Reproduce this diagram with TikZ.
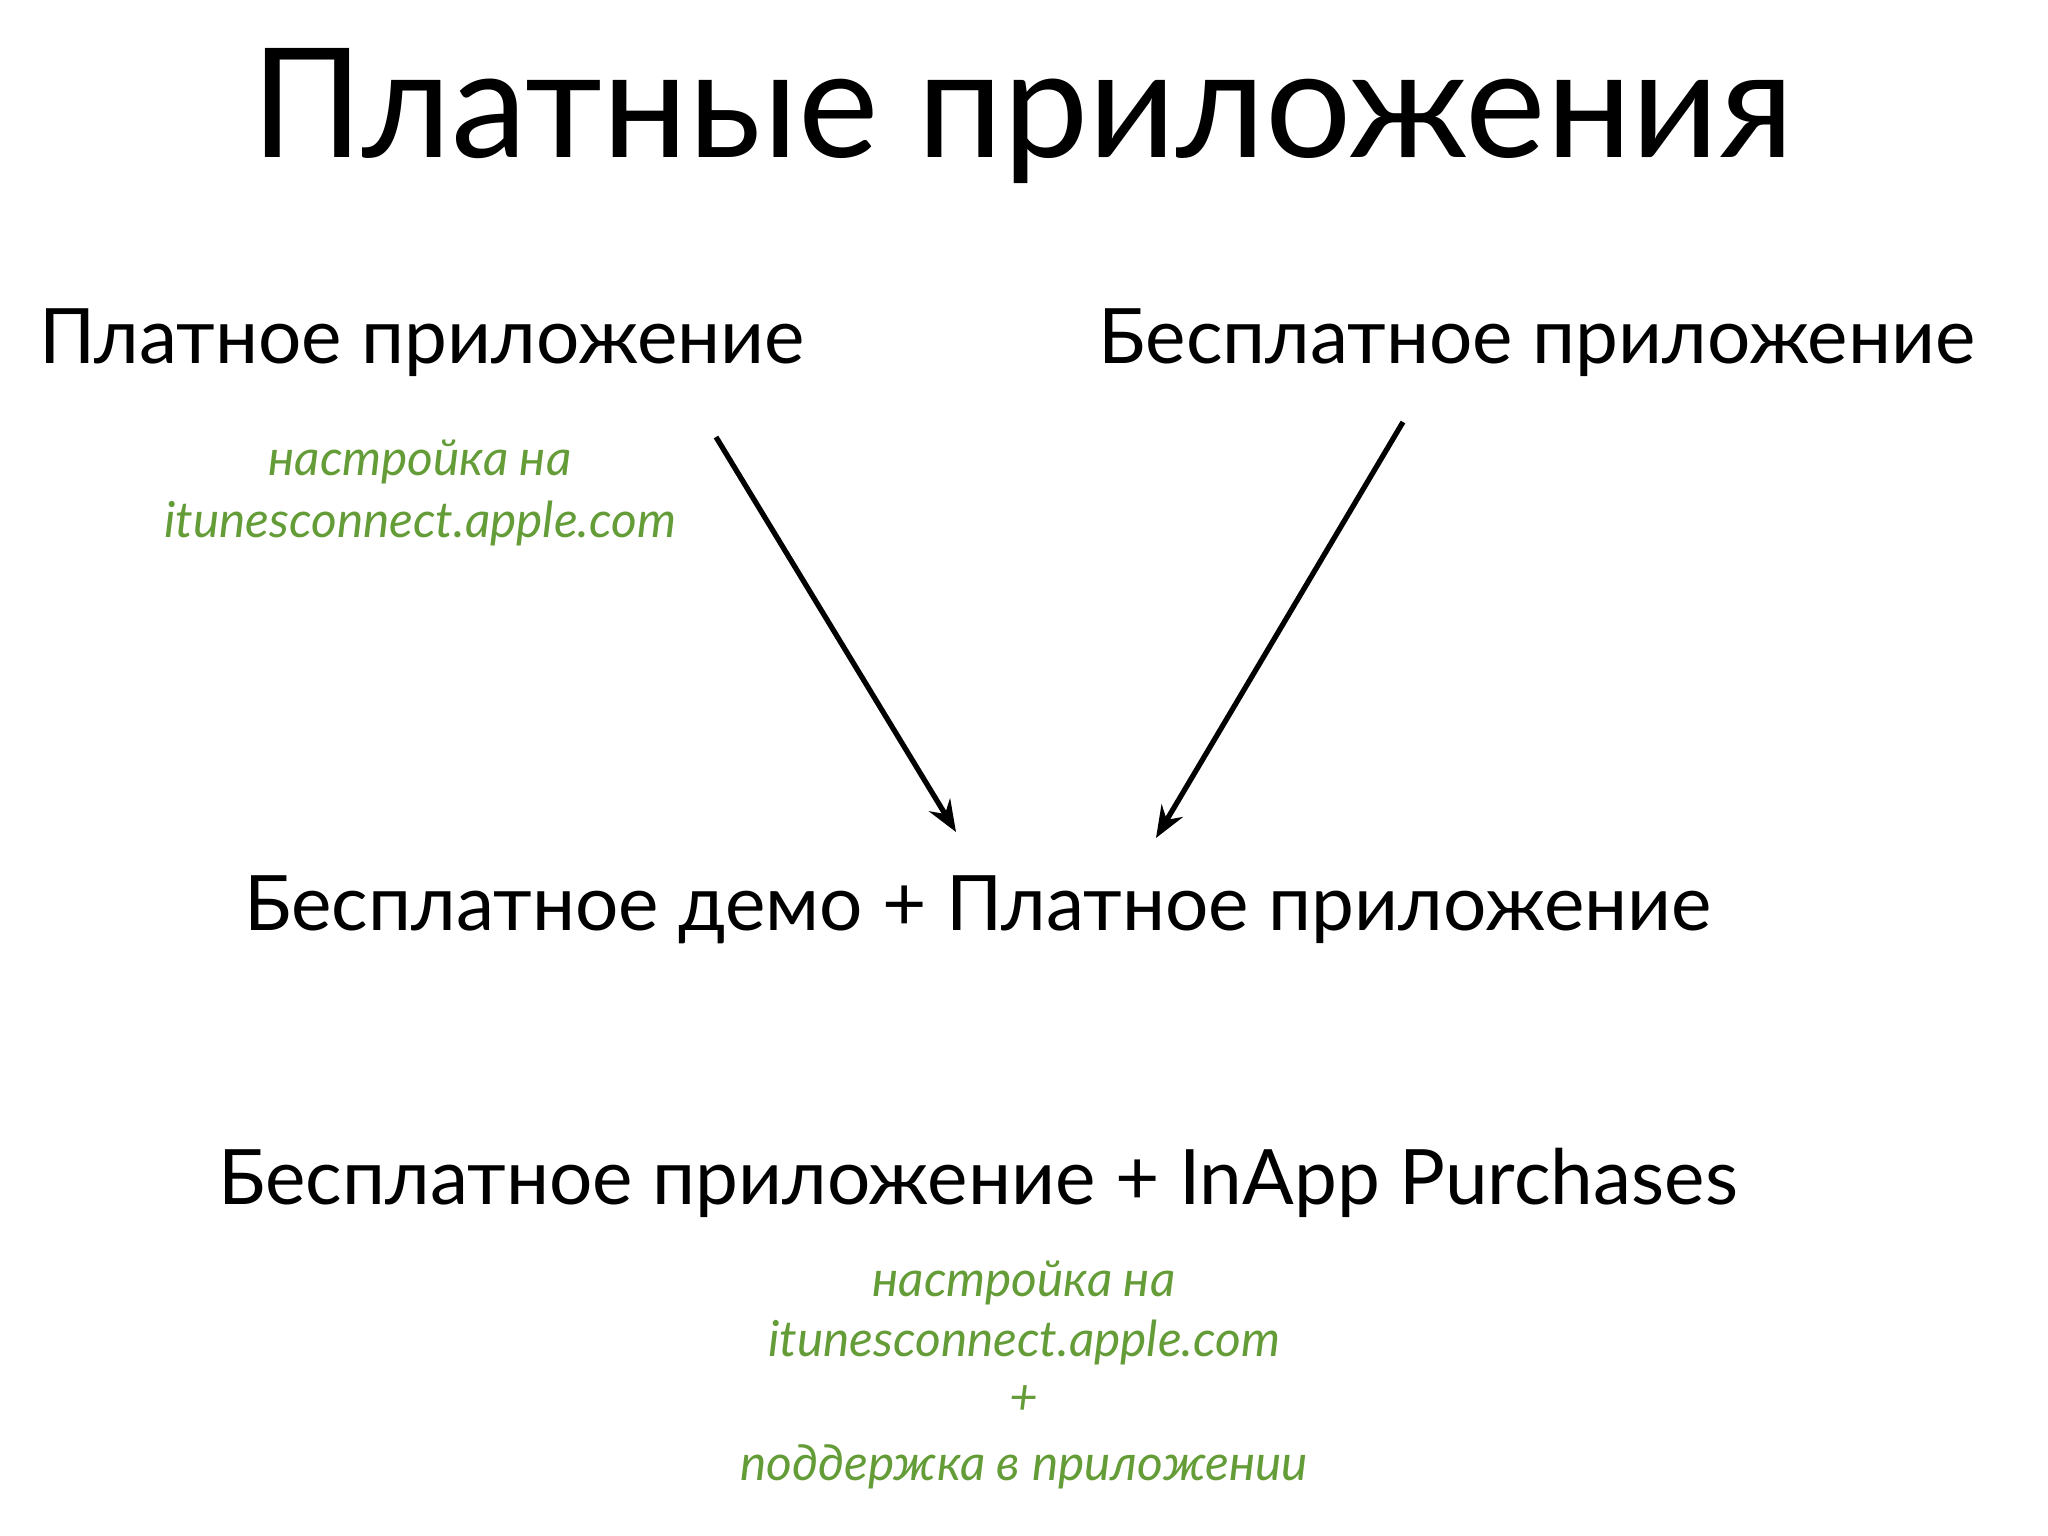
\documentclass[tikz,border=0pt]{standalone}
\usepackage{fontspec}
\setmainfont{Lato}
\usetikzlibrary{arrows.meta}
\definecolor{grn}{RGB}{100,156,56}
\begin{document}
\begin{tikzpicture}[x=0.01cm,y=-0.01cm,
 title/.style={font=\fontsize{43.3}{50}\selectfont, anchor=base, inner sep=0},
 head/.style={font=\fontsize{21.75}{26}\selectfont, anchor=base, inner sep=0},
 note/.style={font=\fontsize{14.1}{17}\selectfont\itshape, text=grn, anchor=base, inner sep=0},
 arr/.style={line width=1.5pt, -{Stealth[length=9pt,width=7pt,inset=3pt]}}]
\fill[white] (0,0) rectangle (2048,1536);
\useasboundingbox (0,0) rectangle (2048,1536);
\node[title] (title) at (1023,157) {Платные приложения};
\node[head] (paid) at (422,363) {Платное приложение};
\node[head] (free) at (1537,363) {Бесплатное приложение};
\node[note] (n1a) at (420,475) {настройка на};
\node[note] (n1b) at (420,537) {itunesconnect.apple.com};
\node[head] (demo) at (978,930) {Бесплатное демо + Платное приложение};
\node[head] (inapp) at (978,1204) {Бесплатное приложение + InApp Purchases};
\node[note] (n2a) at (1024,1296) {настройка на};
\node[note] (n2b) at (1024,1356) {itunesconnect.apple.com};
\node[note] (n2c) at (1024,1414) {+};
\node[note] (n2d) at (1024,1480) {поддержка в приложении};
\coordinate (a1s) at (716,437);
\coordinate (a1e) at (956,832);
\coordinate (a2s) at (1403,422);
\coordinate (a2e) at (1156,838);
\draw[arr] (a1s) -- (a1e);
\draw[arr] (a2s) -- (a2e);
\end{tikzpicture}
\end{document}
